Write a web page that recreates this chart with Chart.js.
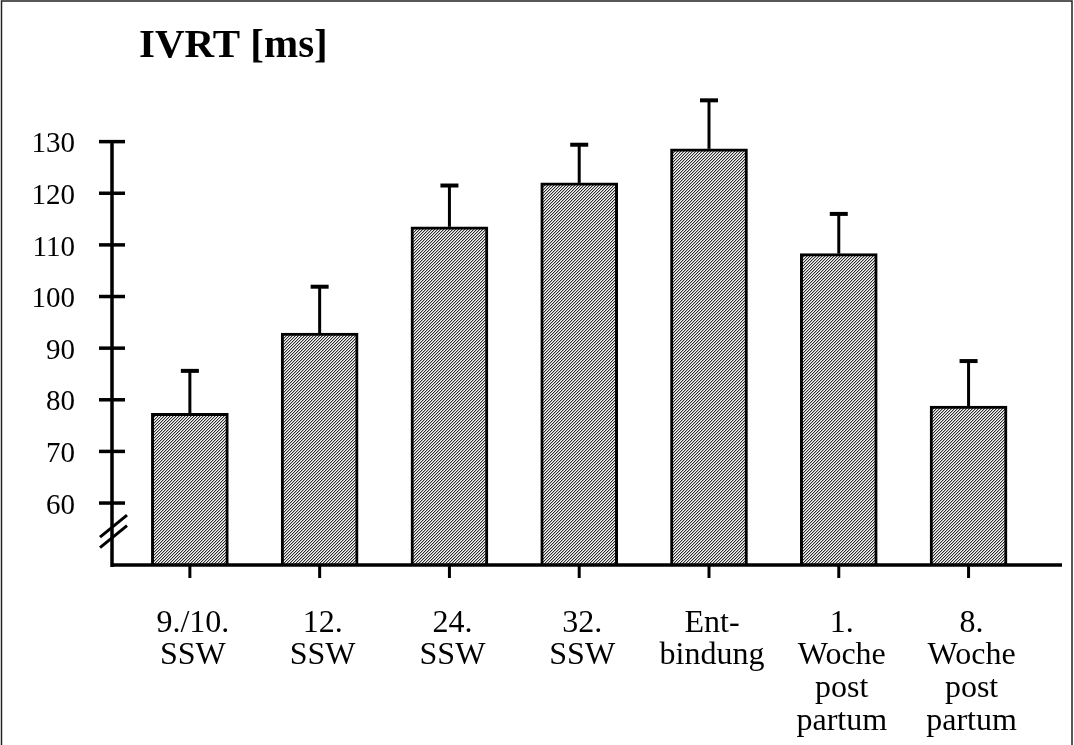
<!DOCTYPE html>
<html>
<head>
<meta charset="utf-8">
<title>IVRT</title>
<script src="https://cdn.jsdelivr.net/npm/chart.js@4"></script>
<style>
  html, body { margin: 0; padding: 0; background: #fff; }
  canvas { display: block; }
</style>
</head>
<body>
<canvas id="ivrtChart" width="1074" height="745"></canvas>
<script>
// IVRT over the course of pregnancy and post partum (mean + SD)
const categories = [
  ['9./10.', 'SSW'],
  ['12.', 'SSW'],
  ['24.', 'SSW'],
  ['32.', 'SSW'],
  ['Ent-', 'bindung'],
  ['1.', 'Woche', 'post', 'partum'],
  ['8.', 'Woche', 'post', 'partum']
];
const ivrtMean = [77.4, 92.9, 113.5, 122.0, 128.6, 108.3, 78.8];
const ivrtSD = [8.2, 9.0, 8.0, 7.4, 9.4, 7.7, 8.7];
const yTicks = [60, 70, 80, 90, 100, 110, 120, 130];
const titleText = 'IVRT [ms]';

const SERIF = '"Liberation Serif", "Times New Roman", serif';

// fine diagonal hatching used as bar fill
function makeHatch() {
  const c = document.createElement('canvas');
  c.width = 3;
  c.height = 3;
  const g = c.getContext('2d');
  const shades = ['#2e2e2e', '#b4b4b4', '#f8f8f8'];
  for (let x = 0; x < 3; x++) {
    for (let y = 0; y < 3; y++) {
      g.fillStyle = shades[(x + y) % 3];
      g.fillRect(x, y, 1, 1);
    }
  }
  return g.createPattern(c, 'repeat');
}

// axes with tick marks, the axis break, error bars, title and frame
const decorations = {
  id: 'decorations',
  afterDatasetsDraw(chart) {
    const ctx = chart.ctx;
    const xs = chart.scales.x;
    const ys = chart.scales.y;
    const meta = chart.getDatasetMeta(0);
    const axisX = xs.left;
    const axisY = ys.bottom;

    ctx.save();
    ctx.strokeStyle = '#000';
    ctx.lineCap = 'butt';

    // error bars (upper whisker only)
    meta.data.forEach((bar, i) => {
      const top = ys.getPixelForValue(ivrtMean[i] + ivrtSD[i]);
      ctx.lineWidth = 3;
      ctx.beginPath();
      ctx.moveTo(bar.x, bar.y);
      ctx.lineTo(bar.x, top);
      ctx.stroke();
      ctx.lineWidth = 4;
      ctx.beginPath();
      ctx.moveTo(bar.x - 9, top);
      ctx.lineTo(bar.x + 9, top);
      ctx.stroke();
    });

    // y axis line and ticks
    ctx.lineWidth = 3.5;
    ctx.beginPath();
    ctx.moveTo(axisX, ys.getPixelForValue(yTicks[yTicks.length - 1]));
    ctx.lineTo(axisX, axisY + 2);
    ctx.stroke();
    yTicks.forEach(v => {
      const py = ys.getPixelForValue(v);
      ctx.beginPath();
      ctx.moveTo(axisX - 13, py);
      ctx.lineTo(axisX + 13, py);
      ctx.stroke();
    });

    // axis break marks
    const breakY = ys.getPixelForValue(54.5);
    ctx.lineWidth = 3;
    [-5.4, 5.1].forEach(off => {
      ctx.beginPath();
      ctx.moveTo(axisX - 12, breakY + off + 11);
      ctx.lineTo(axisX + 15, breakY + off - 11);
      ctx.stroke();
    });

    // x axis line and ticks
    ctx.lineWidth = 3.5;
    ctx.beginPath();
    ctx.moveTo(axisX, axisY);
    ctx.lineTo(xs.right, axisY);
    ctx.stroke();
    ctx.lineWidth = 3;
    meta.data.forEach(bar => {
      ctx.beginPath();
      ctx.moveTo(bar.x, axisY);
      ctx.lineTo(bar.x, axisY + 13);
      ctx.stroke();
    });

    // title
    ctx.fillStyle = '#000';
    ctx.font = 'bold 41px ' + SERIF;
    ctx.textAlign = 'left';
    ctx.textBaseline = 'alphabetic';
    ctx.fillText(titleText, 139, 57);

    // outer frame
    ctx.lineWidth = 1.5;
    ctx.strokeStyle = '#222';
    ctx.beginPath();
    ctx.moveTo(1.5, chart.height);
    ctx.lineTo(1.5, 1);
    ctx.lineTo(1072, 1);
    ctx.lineTo(1072, chart.height);
    ctx.stroke();

    ctx.restore();
  }
};

const canvas = document.getElementById('ivrtChart');
const hatch = makeHatch();

new Chart(canvas, {
  type: 'bar',
  data: {
    datasets: [
      {
        data: ivrtMean.map((v, i) => ({ x: i, y: v })),
        backgroundColor: hatch,
        borderColor: '#000',
        borderWidth: 3,
        borderSkipped: false,
        barThickness: 77
      }
    ]
  },
  options: {
    responsive: false,
    animation: false,
    layout: {
      padding: { top: 90, right: 12, bottom: 0, left: 0 }
    },
    plugins: {
      legend: { display: false },
      tooltip: { enabled: false }
    },
    scales: {
      x: {
        type: 'linear',
        offset: false,
        min: -0.6,
        max: 6.72,
        afterBuildTicks: scale => {
          scale.ticks = categories.map((c, i) => ({ value: i }));
        },
        afterFit: scale => {
          scale.height = 180;
        },
        grid: { display: false, drawTicks: false, offset: false },
        border: { display: false },
        ticks: {
          autoSkip: false,
          maxRotation: 0,
          padding: 42,
          labelOffset: 3,
          color: '#000',
          font: { family: SERIF, size: 32, lineHeight: 1.02 },
          callback: value => categories[value] || ''
        }
      },
      y: {
        min: 48,
        max: 140,
        afterBuildTicks: scale => {
          scale.ticks = yTicks.map(v => ({ value: v }));
        },
        afterFit: scale => {
          scale.width = 112;
        },
        grid: { display: false, drawTicks: false },
        border: { display: false },
        ticks: {
          padding: 37,
          labelOffset: 3,
          color: '#000',
          font: { family: SERIF, size: 29 }
        }
      }
    }
  },
  plugins: [decorations]
});
</script>
</body>
</html>
